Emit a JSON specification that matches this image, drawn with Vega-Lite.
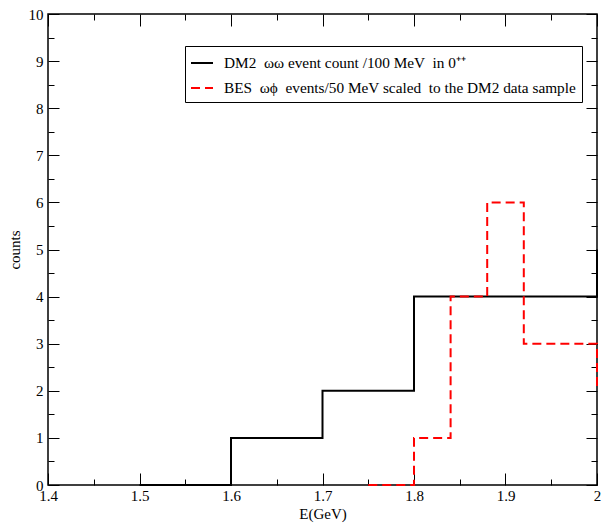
{
  "$schema": "https://vega.github.io/schema/vega-lite/v6.json",
  "width": 549,
  "height": 471,
  "autosize": {"type": "none"},
  "padding": {"left": 48, "top": 14, "right": 12, "bottom": 42},
  "background": "white",
  "config": {
    "view": {"stroke": "black", "strokeWidth": 1.5},
    "font": "Liberation Serif",
    "axis": {"labelFont": "Liberation Serif", "titleFont": "Liberation Serif", "labelFontSize": 15, "titleFontSize": 15, "titleFontWeight": "normal", "labelColor": "black", "titleColor": "black", "tickColor": "black", "domain": false, "grid": false, "labelFlush": false, "labelOverlap": false, "labelBound": false},
    "legend": {"labelFont": "Liberation Serif", "labelFontSize": 15.3, "labelColor": "black"}
  },
  "data": {
    "values": [
      {"s": "DM2 \u00a0ωω event count /100 MeV \u00a0in 0⁺⁺", "x": 1.5, "y": 0, "i": 0},
      {"s": "DM2 \u00a0ωω event count /100 MeV \u00a0in 0⁺⁺", "x": 1.6, "y": 1, "i": 1},
      {"s": "DM2 \u00a0ωω event count /100 MeV \u00a0in 0⁺⁺", "x": 1.7, "y": 2, "i": 2},
      {"s": "DM2 \u00a0ωω event count /100 MeV \u00a0in 0⁺⁺", "x": 1.8, "y": 4, "i": 3},
      {"s": "DM2 \u00a0ωω event count /100 MeV \u00a0in 0⁺⁺", "x": 2.0, "y": 4, "i": 4},
      {"s": "DM2 \u00a0ωω event count /100 MeV \u00a0in 0⁺⁺", "x": 2.0, "y": 5, "i": 5},
      {"s": "BES \u00a0ωϕ \u00a0events/50 MeV scaled \u00a0to the DM2 data sample", "x": 1.75, "y": 0, "i": 0},
      {"s": "BES \u00a0ωϕ \u00a0events/50 MeV scaled \u00a0to the DM2 data sample", "x": 1.8, "y": 1, "i": 1},
      {"s": "BES \u00a0ωϕ \u00a0events/50 MeV scaled \u00a0to the DM2 data sample", "x": 1.84, "y": 4, "i": 2},
      {"s": "BES \u00a0ωϕ \u00a0events/50 MeV scaled \u00a0to the DM2 data sample", "x": 1.88, "y": 6, "i": 3},
      {"s": "BES \u00a0ωϕ \u00a0events/50 MeV scaled \u00a0to the DM2 data sample", "x": 1.92, "y": 3, "i": 4},
      {"s": "BES \u00a0ωϕ \u00a0events/50 MeV scaled \u00a0to the DM2 data sample", "x": 2.0, "y": 3, "i": 5},
      {"s": "BES \u00a0ωϕ \u00a0events/50 MeV scaled \u00a0to the DM2 data sample", "x": 2.0, "y": 2, "i": 6}
    ]
  },
  "resolve": {"scale": {"x": "shared", "y": "shared"}, "axis": {"x": "independent", "y": "independent"}},
  "layer": [
    {
      "mark": {"type": "line", "interpolate": "step-after", "strokeWidth": 2, "clip": false},
      "encoding": {
        "x": {"field": "x", "type": "quantitative", "scale": {"domain": [1.4, 2.0], "nice": false, "zero": false},
          "axis": {"orient": "bottom", "title": "E(GeV)", "values": [1.4, 1.5, 1.6, 1.7, 1.8, 1.9, 2.0], "format": "~g", "tickSize": -12, "labelPadding": 15, "titlePadding": 3}},
        "y": {"field": "y", "type": "quantitative", "scale": {"domain": [0, 10], "nice": false},
          "axis": {"orient": "left", "title": "counts", "values": [0, 1, 2, 3, 4, 5, 6, 7, 8, 9, 10], "format": "d", "tickSize": -11, "labelPadding": 16, "titlePadding": 6}},
        "order": {"field": "i", "type": "quantitative"},
        "color": {"field": "s", "type": "nominal",
          "scale": {"domain": ["DM2 \u00a0ωω event count /100 MeV \u00a0in 0⁺⁺", "BES \u00a0ωϕ \u00a0events/50 MeV scaled \u00a0to the DM2 data sample"], "range": ["black", "red"]},
          "legend": {"title": null, "orient": "none", "legendX": 137, "legendY": 32, "strokeColor": "black", "padding": 5, "symbolType": "stroke", "symbolSize": 484, "symbolStrokeWidth": 2, "rowPadding": 4, "labelLimit": 1000, "labelOffset": 10, "fillColor": "white"}},
        "strokeDash": {"field": "s", "type": "nominal",
          "scale": {"domain": ["DM2 \u00a0ωω event count /100 MeV \u00a0in 0⁺⁺", "BES \u00a0ωϕ \u00a0events/50 MeV scaled \u00a0to the DM2 data sample"], "range": [[1, 0], [9, 5]]},
          "legend": {"title": null, "orient": "none", "legendX": 137, "legendY": 32, "strokeColor": "black", "padding": 5, "symbolType": "stroke", "symbolSize": 484, "symbolStrokeWidth": 2, "rowPadding": 4, "labelLimit": 1000, "labelOffset": 10, "fillColor": "white"}}
      }
    },
    {
      "mark": {"type": "point", "opacity": 0},
      "encoding": {
        "x": {"field": "x", "type": "quantitative", "scale": {"domain": [1.4, 2.0], "nice": false, "zero": false},
          "axis": {"orient": "bottom", "title": null, "labels": false, "values": [1.45, 1.55, 1.65, 1.75, 1.85, 1.95], "tickSize": -6}},
        "y": {"field": "y", "type": "quantitative", "scale": {"domain": [0, 10], "nice": false},
          "axis": {"orient": "left", "title": null, "labels": false, "values": [0.5, 1.5, 2.5, 3.5, 4.5, 5.5, 6.5, 7.5, 8.5, 9.5], "tickSize": -6}}
      }
    },
    {
      "mark": {"type": "point", "opacity": 0},
      "encoding": {
        "x": {"field": "x", "type": "quantitative", "scale": {"domain": [1.4, 2.0], "nice": false, "zero": false},
          "axis": {"orient": "top", "title": null, "labels": false, "values": [1.4, 1.5, 1.6, 1.7, 1.8, 1.9, 2.0], "tickSize": -12}},
        "y": {"field": "y", "type": "quantitative", "scale": {"domain": [0, 10], "nice": false},
          "axis": {"orient": "right", "title": null, "labels": false, "values": [0, 1, 2, 3, 4, 5, 6, 7, 8, 9, 10], "tickSize": -11}}
      }
    },
    {
      "mark": {"type": "point", "opacity": 0},
      "encoding": {
        "x": {"field": "x", "type": "quantitative", "scale": {"domain": [1.4, 2.0], "nice": false, "zero": false},
          "axis": {"orient": "top", "title": null, "labels": false, "values": [1.45, 1.55, 1.65, 1.75, 1.85, 1.95], "tickSize": -6}},
        "y": {"field": "y", "type": "quantitative", "scale": {"domain": [0, 10], "nice": false},
          "axis": {"orient": "right", "title": null, "labels": false, "values": [0.5, 1.5, 2.5, 3.5, 4.5, 5.5, 6.5, 7.5, 8.5, 9.5], "tickSize": -6}}
      }
    }
  ]
}
